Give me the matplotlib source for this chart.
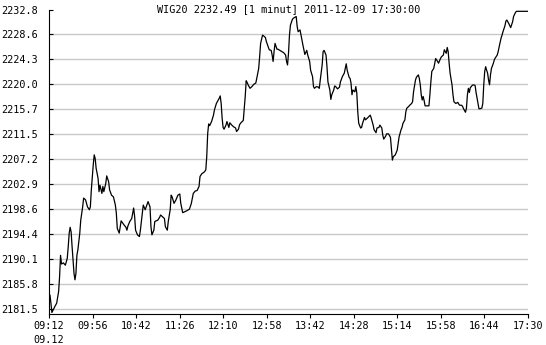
import numpy as np
import matplotlib
matplotlib.use("Agg")
import matplotlib.pyplot as plt

# WIG20, 1 minute chart, 2011-12-09
# minutes after 09:12 and index level
minute = [0, 1, 2, 3, 6, 8, 10, 11, 12, 13,
          15, 17, 18, 19, 20, 21, 22, 23, 24, 26,
          27, 28, 29, 30, 32, 33, 35, 36, 38, 40,
          42, 43, 44, 46, 47, 48, 49, 51, 52, 53,
          55, 56, 57, 59, 60, 62, 63, 65, 67, 69,
          70, 71, 73, 74, 75, 78, 80, 81, 82, 84,
          86, 88, 89, 90, 92, 94, 95, 97, 98, 100,
          102, 103, 105, 106, 107, 109, 110, 113, 115, 116,
          118, 120, 121, 123, 124, 126, 127, 128, 130, 132,
          134, 136, 137, 139, 143, 146, 148, 150, 152, 154,
          156, 157, 159, 161, 163, 164, 165, 166, 167, 169,
          171, 172, 174, 175, 177, 178, 179, 180, 181, 182,
          184, 185, 187, 188, 190, 192, 194, 195, 197, 198,
          199, 202, 203, 204, 205, 206, 207, 209, 211, 213,
          215, 216, 218, 219, 220, 222, 223, 225, 226, 228,
          229, 231, 232, 233, 234, 235, 237, 238, 240, 242,
          244, 246, 247, 248, 249, 250, 251, 253, 254, 256,
          257, 258, 259, 261, 262, 263, 264, 265, 266, 268,
          269, 271, 272, 274, 275, 276, 278, 280, 281, 282,
          284, 285, 286, 288, 289, 290, 292, 293, 294, 296,
          297, 298, 300, 302, 303, 305, 307, 308, 309, 310,
          312, 313, 314, 315, 316, 318, 319, 320, 321, 322,
          324, 325, 326, 328, 329, 331, 334, 335, 337, 338,
          340, 341, 343, 344, 346, 347, 348, 350, 351, 353,
          355, 356, 357, 358, 360, 362, 363, 364, 366, 367,
          368, 370, 371, 372, 374, 375, 377, 378, 379, 381,
          382, 384, 385, 386, 387, 388, 389, 390, 391, 393,
          395, 396, 397, 398, 400, 401, 402, 404, 405, 407,
          408, 410, 411, 413, 414, 415, 416, 417, 419, 420,
          421, 423, 425, 426, 427, 429, 430, 431, 433, 434,
          435, 436, 437, 438, 440, 441, 443, 444, 446, 447,
          448, 450, 451, 452, 453, 454, 455, 456, 457, 458,
          459, 460, 462, 463, 464, 466, 467, 468, 470, 471,
          472, 474, 475, 476, 477, 478, 480, 482, 483, 485,
          486, 498]

price = [2181.9, 2183.9, 2182.5, 2180.9, 2181.9, 2182.5, 2184.5, 2187.0, 2190.7, 2189.2,
         2189.4, 2189.0, 2189.6, 2190.2, 2192.2, 2194.5, 2195.5, 2194.7, 2192.2, 2187.6,
         2186.5, 2187.6, 2190.7, 2191.6, 2194.5, 2196.7, 2199.0, 2200.5, 2200.2, 2199.0,
         2198.5, 2199.0, 2201.9, 2206.2, 2207.9, 2207.3, 2205.6, 2203.9, 2201.6, 2202.7,
         2201.3, 2202.5, 2201.6, 2203.0, 2204.3, 2203.3, 2201.9, 2201.0, 2200.7, 2199.3,
         2197.9, 2195.3, 2194.5, 2195.5, 2196.6, 2195.9, 2195.5, 2195.0, 2195.7, 2196.5,
         2197.0, 2198.8, 2197.4, 2195.0, 2194.2, 2193.9, 2195.0, 2197.9, 2199.3, 2198.5,
         2199.4, 2199.9, 2199.0, 2195.6, 2194.2, 2195.0, 2196.5, 2196.7, 2197.2, 2197.6,
         2197.3, 2197.0, 2195.6, 2195.0, 2196.5, 2198.5, 2201.0, 2200.7, 2199.6, 2200.2,
         2201.0, 2201.2, 2199.6, 2198.0, 2198.3, 2198.6, 2199.6, 2201.3, 2201.7, 2201.8,
         2202.5, 2204.2, 2204.7, 2204.9, 2205.3, 2207.6, 2211.6, 2213.2, 2212.9, 2213.6,
         2214.7, 2215.6, 2216.7, 2217.0, 2217.6, 2218.0, 2216.7, 2214.2, 2212.6, 2212.3,
         2213.0, 2213.6, 2212.6, 2213.4, 2213.0, 2212.7, 2212.5, 2211.9, 2212.3, 2213.0,
         2213.3, 2213.8, 2215.9, 2217.9, 2220.6, 2220.3, 2219.9, 2219.3, 2219.6, 2220.0,
         2220.2, 2221.0, 2222.7, 2224.7, 2227.0, 2228.4, 2228.3, 2228.0, 2227.3, 2226.4,
         2225.9, 2225.8, 2225.0, 2223.9, 2225.6, 2227.0, 2226.0, 2226.0, 2225.8, 2225.6,
         2225.4, 2225.0, 2223.9, 2223.3, 2225.3, 2228.4, 2230.1, 2231.1, 2231.3, 2231.5,
         2231.6, 2229.9, 2229.0, 2229.3, 2228.4, 2227.6, 2226.7, 2225.9, 2225.1, 2225.8,
         2225.0, 2223.9, 2222.4, 2221.3, 2219.6, 2219.3, 2219.6, 2219.5, 2219.3, 2220.7,
         2223.3, 2225.6, 2225.8, 2225.0, 2223.0, 2220.4, 2219.0, 2217.4, 2218.2, 2219.0,
         2219.7, 2219.6, 2219.2, 2219.5, 2220.4, 2221.3, 2221.9, 2222.7, 2223.5, 2222.4,
         2221.2, 2221.0, 2220.2, 2218.2, 2219.0, 2218.7, 2219.6, 2218.5, 2215.3, 2213.3,
         2212.5, 2212.6, 2213.3, 2214.3, 2213.9, 2214.2, 2214.7, 2214.2, 2213.0, 2212.2,
         2211.7, 2212.5, 2212.6, 2213.0, 2212.5, 2211.3, 2210.6, 2211.1, 2211.5, 2211.5,
         2210.9, 2209.0, 2207.0, 2207.6, 2207.9, 2208.7, 2209.9, 2211.0, 2212.2, 2212.6,
         2213.3, 2213.9, 2215.3, 2215.9, 2216.2, 2216.4, 2216.7, 2217.0, 2218.7, 2220.7,
         2221.2, 2221.6, 2221.0, 2219.9, 2218.2, 2217.3, 2217.9, 2217.2, 2216.3, 2216.3,
         2216.3, 2218.2, 2220.4, 2222.2, 2222.7, 2223.6, 2224.4, 2223.9, 2223.6, 2224.4,
         2224.7, 2225.0, 2225.9, 2225.3, 2226.3, 2225.6, 2223.6, 2221.9, 2219.9, 2218.2,
         2217.0, 2216.7, 2216.9, 2216.6, 2216.4, 2216.4, 2216.2, 2215.8, 2215.2, 2215.9,
         2218.2, 2219.3, 2218.6, 2219.4, 2219.8, 2219.9, 2219.8, 2218.6, 2216.7, 2215.8,
         2215.8, 2215.9, 2216.7, 2219.9, 2222.2, 2223.0, 2222.4, 2221.9, 2220.7, 2219.9,
         2221.6, 2222.7, 2223.6, 2224.2, 2224.5, 2225.0, 2225.6, 2226.4, 2227.9, 2228.4,
         2229.0, 2230.0, 2230.8, 2231.0, 2230.7, 2230.4, 2229.7, 2230.7, 2231.6, 2232.3,
         2232.49, 2232.49]

ylevels = [2181.5, 2185.8, 2190.1, 2194.4, 2198.6, 2202.9, 2207.2,
           2211.5, 2215.7, 2220.0, 2224.3, 2228.6, 2232.8]
xlabels = ["09:12\n09.12", "09:56", "10:42", "11:26", "12:10", "12:58",
           "13:42", "14:28", "15:14", "15:58", "16:44", "17:30"]
title = "WIG20 2232.49 [1 minut] 2011-12-09 17:30:00"

plt.rcParams['font.family'] = ['DejaVu Sans Mono']
fs = 7.3

fig = plt.figure(figsize=(5.46, 3.45), dpi=100)
ax = fig.add_axes([49/546, 1 - 313.5/345, 479/546, 304/345])

# grid lines, all but the top level
ax.hlines(ylevels[:-1], 0, 498, colors='#c8c8c8', lw=1.0, zorder=1)
ax.plot(minute, price, color='black', lw=0.9, zorder=3)

ax.set_xlim(0, 498)
ax.set_ylim(2180.73, 2232.8)
ax.set_yticks(ylevels)
ax.set_yticklabels(["%.1f" % v for v in ylevels])
ax.set_xticks(np.linspace(0, 498, len(xlabels)))
ax.set_xticklabels(xlabels, linespacing=1.45, va='top')

ax.tick_params(axis='y', direction='in', length=3, width=0.8, pad=8, labelsize=fs)
ax.tick_params(axis='x', direction='out', length=3, width=0.8, pad=2.5, labelsize=fs)
for s in ['top', 'right']:
    ax.spines[s].set_visible(False)
for s in ['left', 'bottom']:
    ax.spines[s].set_linewidth(0.8)
    ax.spines[s].set_color('black')

fig.text(288.5/546, 1 - 9/345, title, ha='center', va='center', fontsize=fs)

fig.savefig("out.png", dpi=100)
